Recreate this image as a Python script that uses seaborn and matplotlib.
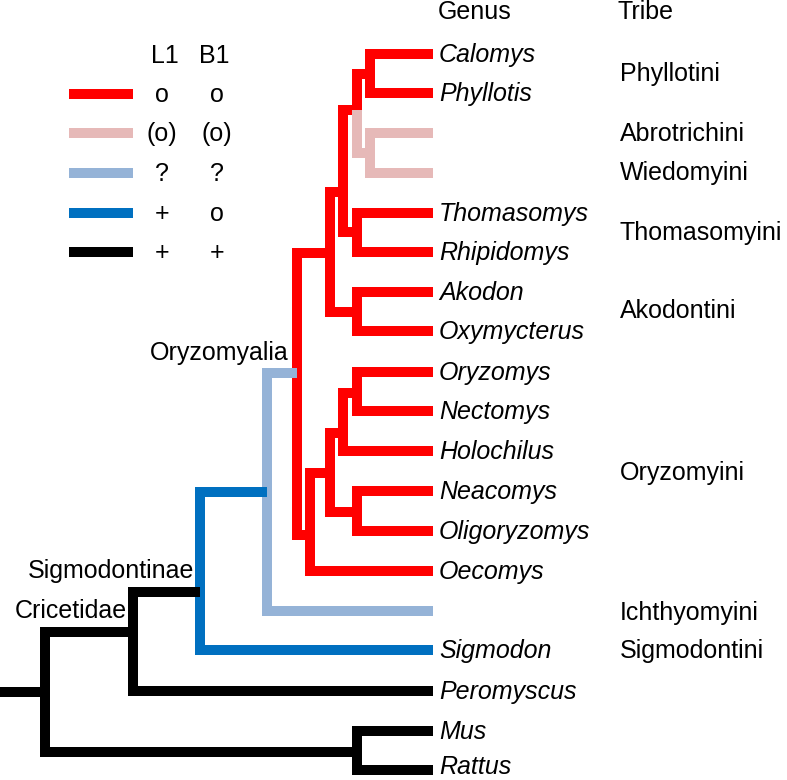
import pandas as pd
import matplotlib.pyplot as plt
import seaborn as sns

# Zustände L1 / B1 und ihre Farben
states = ["oo", "(o)(o)", "??", "+o", "++"]
state_colors = ["#FF0000", "#E6B9B8", "#95B3D7", "#0070C0", "#000000"]
legend_l1 = ["o", "(o)", "?", "+", "+"]
legend_b1 = ["o", "(o)", "?", "o", "+"]

node_names = ["root", "C", "MR", "SG", "OY", "S", "R", "O", "Q", "A", "P", "T",
              "CP", "AW", "U", "V", "W", "X"]
node_parent = [None, "root", "root", "C", "SG", "OY", "S", "S", "R", "R", "Q", "Q",
               "P", "P", "O", "U", "U", "V"]
node_x = [45, 133, 357, 200, 267, 297, 330, 310, 343, 357, 357, 357,
          370, 370, 330, 343, 357, 357]
node_y = [692, 632, 752, 592, 492, 373, 253, 535, 192, 312, 110, 232,
          74, 153, 473, 433, 512, 393]
node_state = ["++", "++", "++", "++", "+o", "??", "oo", "oo", "oo", "oo", "oo", "oo",
              "oo", "(o)(o)", "oo", "oo", "oo", "oo"]

# Blätter
genus = ["Calomys", "Phyllotis", "", "", "Thomasomys", "Rhipidomys", "Akodon",
         "Oxymycterus", "Oryzomys", "Nectomys", "Holochilus", "Neacomys",
         "Oligoryzomys", "Oecomys", "", "Sigmodon", "Peromyscus", "Mus", "Rattus"]
tip_y = [54, 93, 133, 173, 213, 252, 292, 331, 372, 411, 451, 491,
         531, 571, 611, 650, 691, 731, 770]
tip_parent = ["CP", "CP", "AW", "AW", "T", "T", "A", "A", "X", "X", "V", "W",
              "W", "O", "OY", "SG", "C", "MR", "MR"]
tip_state = ["oo", "oo", "(o)(o)", "(o)(o)", "oo", "oo", "oo", "oo", "oo", "oo",
             "oo", "oo", "oo", "oo", "??", "+o", "++", "++", "++"]
tip_x = 433

# Tribus
tribes = ["Phyllotini", "Abrotrichini", "Wiedomyini", "Thomasomyini", "Akodontini",
          "Oryzomyini", "Ichthyomyini", "Sigmodontini"]
tribe_y = [73, 133, 172, 232, 310, 472, 612, 650]

clade_labels = ["Oryzomyalia", "Sigmodontinae", "Cricetidae"]
clade_pos = [(289, 352), (194, 570), (127, 610)]

# Äste als Linienzüge aufbauen
pos = dict(zip(node_names, zip(node_x, node_y)))
rows = []
seg = 0
for name, par, x, y, st in zip(node_names, node_parent, node_x, node_y, node_state):
    if par is None:
        pts = [(0, y), (x, y)]
    else:
        px, py = pos[par]
        pts = [(px, py), (px, y), (x, y)]
    for a, b in pts:
        rows.append({"seg": seg, "x": a, "y": b, "state": st})
    seg += 1
for y, par, st in zip(tip_y, tip_parent, tip_state):
    px, py = pos[par]
    for a, b in [(px, py), (px, y), (tip_x, y)]:
        rows.append({"seg": seg, "x": a, "y": b, "state": st})
    seg += 1

# Legendenlinien
legend_y = [94, 133, 173, 213, 252]
for st, y in zip(states, legend_y):
    for a in [69, 133]:
        rows.append({"seg": seg, "x": a, "y": y, "state": st})
    seg += 1

df = pd.DataFrame(rows)

sns.set_style("white")
plt.rcParams["font.family"] = ["Liberation Sans", "DejaVu Sans"]
plt.rcParams["text.color"] = "black"

fig = plt.figure(figsize=(7.87, 7.80), dpi=100)
ax = fig.add_axes([0, 0, 1, 1])
sns.lineplot(data=df, x="x", y="y", units="seg", estimator=None, sort=False,
             hue="state", hue_order=states, palette=dict(zip(states, state_colors)),
             linewidth=7.2, solid_capstyle="butt", solid_joinstyle="miter",
             legend=False, ax=ax)

fs = 18
off = 8
for g, y in zip(genus, tip_y):
    if g:
        # unterste Beschriftung nicht über den Rand laufen lassen
        ax.text(439, min(y + off, 774), g, fontsize=fs, style="italic",
                va="baseline", ha="left")
for t, y in zip(tribes, tribe_y):
    ax.text(620, y + off, t, fontsize=fs, va="baseline", ha="left")
for lab, (x, y) in zip(clade_labels, clade_pos):
    ax.text(x, y + off, lab, fontsize=fs, va="baseline", ha="right")

ax.text(438, 19, "Genus", fontsize=fs, va="baseline", ha="left")
ax.text(617, 19, "Tribe", fontsize=fs, va="baseline", ha="left")
ax.text(165, 63, "L1", fontsize=fs, va="baseline", ha="center")
ax.text(214, 63, "B1", fontsize=fs, va="baseline", ha="center")
for a, b, y in zip(legend_l1, legend_b1, legend_y):
    ax.text(162, y + off, a, fontsize=fs, va="baseline", ha="center")
    ax.text(217, y + off, b, fontsize=fs, va="baseline", ha="center")

ax.set_xlim(0, 787)
ax.set_ylim(780, 0)
ax.axis("off")
plt.savefig("out.png", dpi=100)
